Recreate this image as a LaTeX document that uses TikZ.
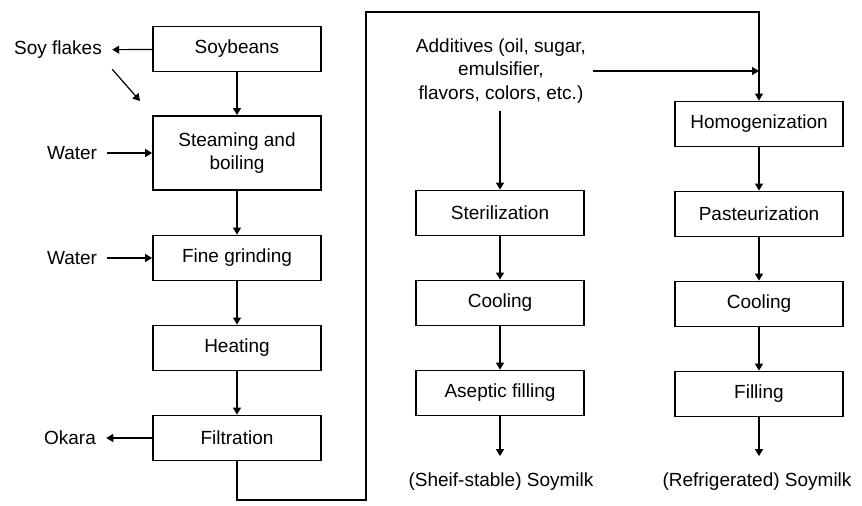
\documentclass[tikz,border=0pt]{standalone}
\usepackage{fontspec}
\setmainfont{Liberation Sans}
\usetikzlibrary{arrows.meta}

\begin{document}
\begin{tikzpicture}
[
	x=0.5pt,y=-0.5pt,
	every node/.style={font=\fontsize{9.5}{11.8}\selectfont},
	procbox/.style={draw,line width=0.9pt,minimum width=84pt,minimum height=22.5pt,inner sep=0pt,align=center},
	sidetext/.style={inner sep=5pt},
	flow/.style={-{Triangle[length=3.5pt,width=4pt]},line width=0.6pt}
]

	\useasboundingbox (0,0) rectangle (862,506);

	% left column
	\node[procbox] (soy) at (237,49) {Soybeans};
	\node[procbox,minimum height=37pt] (steam) at (237,153) {Steaming and\\boiling};
	\node[procbox] (grind) at (237,258) {Fine grinding};
	\node[procbox] (heat) at (237,348) {Heating};
	\node[procbox] (filt) at (237,438) {Filtration};

	\draw[flow] (soy) -- (steam);
	\draw[flow] (steam) -- (grind);
	\draw[flow] (grind) -- (heat);
	\draw[flow] (heat) -- (filt);

	% side streams
	\node[sidetext] (flakes) at (58,50) {Soy flakes};
	\node[sidetext] (water1) at (72,153) {Water};
	\node[sidetext] (water2) at (72,258) {Water};
	\node[sidetext] (okara) at (70,438) {Okara};
	\coordinate (flakesin) at (140,101);

	\draw[flow] (soy) -- (flakes);
	\draw[flow] (flakes.south east) -- (flakesin);
	\draw[flow] (water1) -- (steam);
	\draw[flow] (water2) -- (grind);
	\draw[flow] (filt) -- (okara);

	% middle column
	\node[align=center] (additives) at (501,71) {Additives (oil, sugar,\\emulsifier,\\flavors, colors, etc.)};
	\node[procbox] (ster) at (500,213) {Sterilization};
	\node[procbox] (cool1) at (500,303) {Cooling};
	\node[procbox] (asep) at (500,393) {Aseptic filling};
	\node (shelf) at (501,482) {(Sheif-stable) Soymilk};

	\draw[flow] (additives.south -| ster.north) -- (ster.north);
	\draw[flow] (ster) -- (cool1);
	\draw[flow] (cool1) -- (asep);
	\draw[flow,shorten >=5pt] (asep) -- (asep |- shelf.north);

	% right column
	\node[procbox] (homo) at (759,124) {Homogenization};
	\node[procbox] (past) at (759,214) {Pasteurization};
	\node[procbox] (cool2) at (759,304) {Cooling};
	\node[procbox] (fill) at (759,394) {Filling};
	\node (refrig) at (757,482) {(Refrigerated) Soymilk};

	\draw[flow] (homo) -- (past);
	\draw[flow] (past) -- (cool2);
	\draw[flow] (cool2) -- (fill);
	\draw[flow,shorten >=5pt] (fill) -- (fill |- refrig.north);

	% raw soymilk to the right column
	\coordinate (lowbend) at (366,500);
	\coordinate (topbend) at (366,12);
	\draw[flow] (filt.south) |- (lowbend) -- (topbend) -| (homo.north);
	\draw[flow] (additives.east) -- (additives.east -| homo.north);

\end{tikzpicture}
\end{document}
